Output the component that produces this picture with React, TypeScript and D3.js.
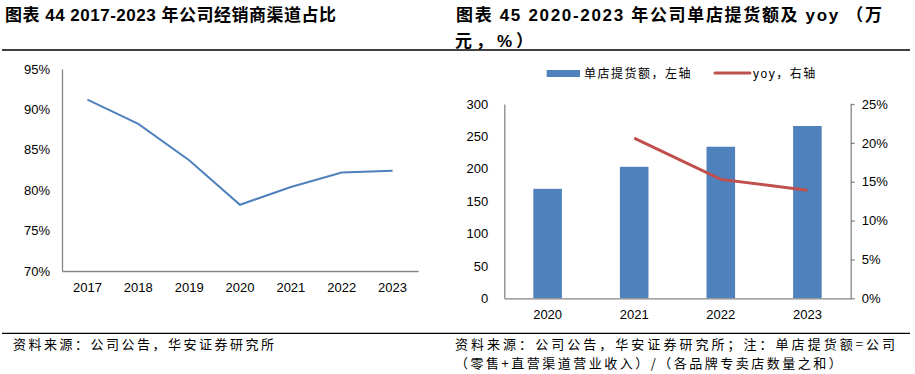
import React, { useRef, useEffect } from 'react';
import * as d3 from 'd3';

// left chart: dealer channel share
const shareYears = ['2017', '2018', '2019', '2020', '2021', '2022', '2023'];
const dealerShare = [91.2, 88.2, 83.7, 78.2, 80.4, 82.2, 82.4];
const shareTicks = [70, 75, 80, 85, 90, 95];

// right chart: per-store sales + yoy
const storeYears = ['2020', '2021', '2022', '2023'];
const storeSales = [169, 203, 234, 266];
const storeYoy: (number | null)[] = [null, 20.6, 15.3, 13.9];
const salesTicks = [0, 50, 100, 150, 200, 250, 300];
const yoyTicks = [0, 5, 10, 15, 20, 25];

const AXIS = '#868686';
const BLUE = '#4F81BD';
const RED = '#C0504D';
const NUM_FONT = '"Liberation Sans", Arial, sans-serif';
const CJK_FONT = '"Liberation Sans", "Noto Sans CJK SC", sans-serif';

export default function App() {
  const svgRef = useRef<SVGSVGElement>(null);

  useEffect(() => {
    const svg = d3.select(svgRef.current);
    svg.selectAll('*').remove();

    const styleAxis = (g: any) => {
      g.select('.domain').attr('stroke', AXIS).attr('stroke-width', 1.3);
      g.selectAll('.tick line').attr('stroke', AXIS).attr('stroke-width', 1.3);
      g.selectAll('text')
        .attr('fill', '#000')
        .style('font-family', NUM_FONT)
        .style('font-size', '13px');
    };

    // ---------- left chart ----------
    const x1 = d3.scaleBand().domain(shareYears).range([62, 418]).padding(0);
    const y1 = d3.scaleLinear().domain([70, 95]).range([271, 69]);

    svg.append('g')
      .attr('transform', 'translate(62,0)')
      .call(d3.axisLeft(y1).tickValues(shareTicks).tickSize(0).tickPadding(12).tickFormat(d => `${d}%`))
      .call(styleAxis);

    svg.append('g')
      .attr('transform', 'translate(0,271)')
      .call(d3.axisBottom(x1).tickSize(0).tickPadding(12))
      .call(styleAxis);

    const line1 = d3.line<number>()
      .x((d, i) => (x1(shareYears[i]) as number) + x1.bandwidth() / 2)
      .y(d => y1(d));

    svg.append('path')
      .datum(dealerShare)
      .attr('d', line1)
      .attr('fill', 'none')
      .attr('stroke', BLUE)
      .attr('stroke-width', 2);

    // ---------- right chart ----------
    const x2 = d3.scaleBand().domain(storeYears).range([504.3, 850.7]).padding(0);
    const yL = d3.scaleLinear().domain([0, 300]).range([298.3, 104]);
    const yR = d3.scaleLinear().domain([0, 25]).range([298.3, 104]);
    const barW = x2.bandwidth() * 0.33;

    svg.append('g')
      .selectAll('rect')
      .data(storeSales)
      .enter()
      .append('rect')
      .attr('x', (d, i) => (x2(storeYears[i]) as number) + (x2.bandwidth() - barW) / 2)
      .attr('y', d => yL(d))
      .attr('width', barW)
      .attr('height', d => yL(0) - yL(d))
      .attr('fill', BLUE);

    svg.append('g')
      .attr('transform', 'translate(504.3,0)')
      .call(d3.axisLeft(yL).tickValues(salesTicks).tickSize(0).tickPadding(16))
      .call(styleAxis);

    svg.append('g')
      .attr('transform', 'translate(850.7,0)')
      .call(d3.axisRight(yR).tickValues(yoyTicks).tickSize(4).tickSizeOuter(0).tickPadding(7).tickFormat(d => `${d}%`))
      .call(styleAxis);

    svg.append('g')
      .attr('transform', 'translate(0,298.3)')
      .call(d3.axisBottom(x2).tickSize(0).tickPadding(11))
      .call(styleAxis);

    const yoyPts = storeYoy
      .map((v, i) => ({ year: storeYears[i], v }))
      .filter(d => d.v !== null) as { year: string; v: number }[];

    const line2 = d3.line<{ year: string; v: number }>()
      .x(d => (x2(d.year) as number) + x2.bandwidth() / 2)
      .y(d => yR(d.v));

    svg.append('path')
      .datum(yoyPts)
      .attr('d', line2)
      .attr('fill', 'none')
      .attr('stroke', RED)
      .attr('stroke-width', 3);

    // legend
    const legend = svg.append('g').style('font-family', CJK_FONT).style('font-size', '12px');
    legend.append('rect').attr('x', 546.7).attr('y', 70).attr('width', 33.3).attr('height', 7).attr('fill', BLUE);
    legend.append('text').attr('x', 584).attr('y', 73.5).attr('dy', '0.35em')
      .style('letter-spacing', '1.5px').text('单店提货额，左轴');
    legend.append('line').attr('x1', 715).attr('x2', 750).attr('y1', 73).attr('y2', 73)
      .attr('stroke', RED).attr('stroke-width', 3).attr('stroke-linecap', 'round');
    legend.append('text').attr('x', 753).attr('y', 73.5).attr('dy', '0.35em')
      .style('letter-spacing', '1.5px').text('yoy，右轴');
  }, []);

  const titleStyle: React.CSSProperties = { fontFamily: CJK_FONT, fontSize: 17, fontWeight: 'bold' };
  const noteStyle: React.CSSProperties = { fontFamily: '"Noto Sans CJK SC", sans-serif', fontSize: 13 };

  return (
    <div style={{ position: 'absolute', left: 0, top: 0 }}>
      <svg ref={svgRef} width={915} height={374} style={{ display: 'block', background: '#fff' }} />
      <svg width={915} height={374} style={{ position: 'absolute', left: 0, top: 0 }}>
        {/* titles */}
        <text x={5} y={21} style={{ ...titleStyle, letterSpacing: '0.5px' }}>
          图表 44 2017-2023 年公司经销商渠道占比
        </text>
        <text x={456} y={21} textLength={426} lengthAdjust="spacing" style={titleStyle}>
          图表 45 2020-2023 年公司单店提货额及 yoy （万
        </text>
        <text x={455} y={47} style={{ ...titleStyle, letterSpacing: '4px' }}>
          元，%）
        </text>
        <line x1={2} x2={455} y1={50} y2={50} stroke="#000" strokeWidth={1.3} />
        <line x1={455} x2={910} y1={50} y2={50} stroke="#000" strokeWidth={1.3} />

        {/* footers */}
        <line x1={2} x2={455} y1={333.3} y2={333.3} stroke="#000" strokeWidth={1.3} />
        <line x1={455} x2={910} y1={333.3} y2={333.3} stroke="#000" strokeWidth={1.3} />
        <text x={13} y={349} style={{ ...noteStyle, letterSpacing: '2.5px' }}>
          资料来源：公司公告，华安证券研究所
        </text>
        <text x={455} y={349} textLength={440} lengthAdjust="spacing" style={noteStyle}>
          资料来源：公司公告，华安证券研究所；注：单店提货额=公司
        </text>
        <text x={455} y={368} style={{ ...noteStyle, letterSpacing: '2.5px' }}>
          （零售+直营渠道营业收入）/（各品牌专卖店数量之和）
        </text>
      </svg>
    </div>
  );
}
